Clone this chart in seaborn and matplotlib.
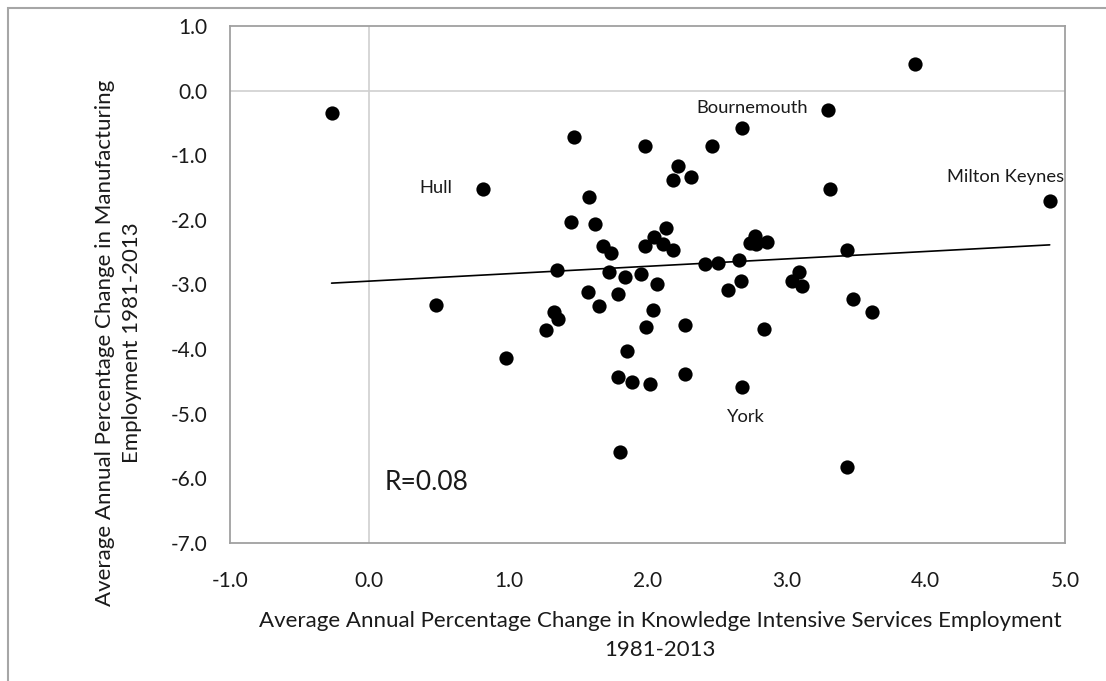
import matplotlib
matplotlib.use("Agg")
import matplotlib.pyplot as plt
import seaborn as sns
import numpy as np
import pandas as pd
from matplotlib.patches import Rectangle

# Average annual % change 1981-2013, one point per city
kis_change = [
    -0.27, 1.47, 1.98, 2.46, 2.68, 3.30, 3.92, 2.22, 2.31, 2.18,
    0.82, 3.31, 4.89, 1.58, 1.45, 1.62, 2.13, 2.05, 2.11, 1.98,
    2.18, 1.68, 1.74, 2.77, 2.74, 2.78, 2.86, 3.43, 1.35, 1.72,
    1.84, 1.95, 2.07, 2.41, 2.51, 2.66, 2.67, 2.58, 3.09, 3.04,
    3.11, 3.48, 3.61, 0.48, 1.57, 1.79, 1.65, 2.04, 1.33, 1.36,
    1.27, 1.99, 2.27, 2.84, 0.98, 1.85, 1.79, 1.89, 2.02, 2.27,
    2.68, 1.80, 3.43,
]
manuf_change = [
    -0.35, -0.72, -0.85, -0.86, -0.58, -0.30, 0.41, -1.16, -1.34, -1.39,
    -1.52, -1.52, -1.71, -1.65, -2.04, -2.06, -2.12, -2.27, -2.37, -2.41,
    -2.47, -2.40, -2.51, -2.25, -2.36, -2.37, -2.35, -2.46, -2.77, -2.81,
    -2.89, -2.84, -2.99, -2.68, -2.66, -2.62, -2.95, -3.08, -2.81, -2.95,
    -3.02, -3.23, -3.42, -3.32, -3.11, -3.15, -3.33, -3.39, -3.42, -3.54,
    -3.71, -3.65, -3.63, -3.69, -4.14, -4.03, -4.43, -4.51, -4.54, -4.39,
    -4.58, -5.59, -5.83,
]

# Named cities and where their labels sit
city_names = ["Hull", "Bournemouth", "Milton Keynes", "York"]
city_label_x = [0.48, 2.75, 4.57, 2.71]
city_label_y = [-1.51, -0.27, -1.34, -5.05]

r_text = "R=0.08"

x_ticks = [-1.0, 0.0, 1.0, 2.0, 3.0, 4.0, 5.0]
y_ticks = [1.0, 0.0, -1.0, -2.0, -3.0, -4.0, -5.0, -6.0, -7.0]

x_title = "Average Annual Percentage Change in Knowledge Intensive Services Employment\n1981-2013"
y_title = "Average Annual Percentage Change in Manufacturing\nEmployment 1981-2013"

df = pd.DataFrame({"kis": kis_change, "manuf": manuf_change})

sns.set_theme(style="white")
plt.rcParams["font.family"] = ["Lato", "DejaVu Sans"]

fig = plt.figure(figsize=(11.06, 6.81), dpi=100)
ax = fig.add_axes([230 / 1106, 1 - 543 / 681, (1065 - 230) / 1106, (543 - 26) / 681])

# chart-area frame
fig.patches.append(Rectangle((8 / 1106, -0.1), 1.2, 1 - 8 / 681 + 0.1,
                             transform=fig.transFigure, fill=False,
                             edgecolor="#a6a6a6", linewidth=1.5, zorder=0))

ax.set_xlim(-1.0, 5.0)
ax.set_ylim(-7.0, 1.0)

# zero lines
ax.axhline(0, color="#d0d0d0", linewidth=1.2, zorder=1)
ax.axvline(0, color="#d0d0d0", linewidth=1.2, zorder=1)

sns.regplot(data=df, x="kis", y="manuf", ax=ax, scatter=False, ci=None,
            truncate=True, line_kws=dict(color="black", linewidth=1.2, zorder=2))
sns.scatterplot(data=df, x="kis", y="manuf", ax=ax, s=105, color="black",
                edgecolor="black", linewidth=0, zorder=3, legend=False)

for name, lx, ly in zip(city_names, city_label_x, city_label_y):
    ax.text(lx, ly, name, ha="center", va="center", fontsize=13.2, color="#1a1a1a")

ax.text(0.11, -6.07, r_text, ha="left", va="center", fontsize=19, color="#1a1a1a")

ax.set_xticks(x_ticks)
ax.set_yticks(y_ticks)
ax.set_xticklabels([f"{v:.1f}" for v in x_ticks], fontsize=15, color="#1a1a1a")
ax.set_yticklabels([f"{v:.1f}" for v in y_ticks], fontsize=15, color="#1a1a1a")
ax.tick_params(axis="x", length=0, pad=20)
ax.tick_params(axis="y", length=0, pad=16)

ax.set_xlabel(x_title, fontsize=16, color="#1a1a1a", linespacing=1.55)
ax.set_ylabel(y_title, fontsize=16, color="#1a1a1a", linespacing=1.45)
ax.xaxis.set_label_coords(0.515, -0.132)
ax.yaxis.set_label_coords(-0.105, 0.387)

for side in ["left", "bottom", "top", "right"]:
    ax.spines[side].set_visible(True)
    ax.spines[side].set_color("#a0a0a0")
    ax.spines[side].set_linewidth(1.3)

fig.savefig("out.png", dpi=100, facecolor="white")
